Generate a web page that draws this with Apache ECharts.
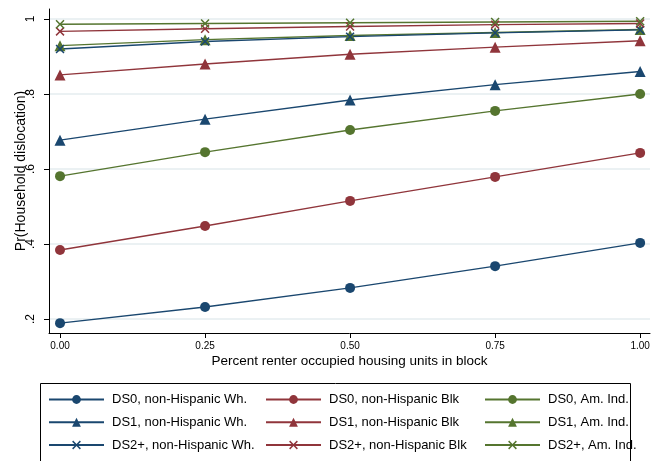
<!DOCTYPE html>
<html>
<head>
<meta charset="utf-8">
<script src="https://cdn.jsdelivr.net/npm/echarts@6/dist/echarts.min.js"></script>
<style>
  html, body { margin: 0; padding: 0; background: #fff; }
  #chart { width: 658px; height: 461px; }
</style>
</head>
<body>
<div id="chart"></div>
<script>
// x positions: share of renter occupied units
const xValues = [0, 0.25, 0.5, 0.75, 1];
const xTicks = [0, 0.25, 0.5, 0.75, 1];
const yTicks = [0.2, 0.4, 0.6, 0.8, 1];

// predicted probabilities
const ds0White = [0.189, 0.232, 0.283, 0.341, 0.403];
const ds0Black = [0.384, 0.448, 0.515, 0.579, 0.643];
const ds0AmInd = [0.581, 0.645, 0.704, 0.755, 0.800];
const ds1White = [0.677, 0.733, 0.784, 0.825, 0.860];
const ds1Black = [0.851, 0.880, 0.906, 0.925, 0.942];
const ds1AmInd = [0.929, 0.945, 0.956, 0.964, 0.972];
const ds2White = [0.920, 0.940, 0.953, 0.963, 0.971];
const ds2Black = [0.967, 0.974, 0.980, 0.985, 0.988];
const ds2AmInd = [0.986, 0.988, 0.990, 0.992, 0.994];

const COLORS = {
  navy: '#1a476f',
  maroon: '#90353b',
  green: '#55752f',
  grid: '#e4ecef'
};

const FONT = 'Liberation Sans, Arial, Helvetica, sans-serif';
const CROSS = 'path://M0,1.2L1.2,0L5,3.8L8.8,0L10,1.2L6.2,5L10,8.8L8.8,10L5,6.2L1.2,10L0,8.8L3.8,5Z';

const mk = (name, arr, color, symbol, size) => ({
  name: name,
  type: 'line',
  data: xValues.map((x, i) => [x, arr[i]]),
  symbol: symbol,
  symbolSize: size,
  lineStyle: { color: color, width: 1.3 },
  itemStyle: { color: color },
  emphasis: { disabled: true },
  animation: false
});

const series = [
  mk('DS0, non-Hispanic Wh.', ds0White, COLORS.navy, 'circle', 10),
  mk('DS0, non-Hispanic Blk', ds0Black, COLORS.maroon, 'circle', 10),
  mk('DS0, Am. Ind.', ds0AmInd, COLORS.green, 'circle', 10),
  mk('DS1, non-Hispanic Wh.', ds1White, COLORS.navy, 'triangle', 11),
  mk('DS1, non-Hispanic Blk', ds1Black, COLORS.maroon, 'triangle', 11),
  mk('DS1, Am. Ind.', ds1AmInd, COLORS.green, 'triangle', 11),
  mk('DS2+, non-Hispanic Wh.', ds2White, COLORS.navy, CROSS, 9),
  mk('DS2+, non-Hispanic Blk', ds2Black, COLORS.maroon, CROSS, 9),
  mk('DS2+, Am. Ind.', ds2AmInd, COLORS.green, CROSS, 9)
];

// one legend per column so that the columns line up
const legendCol = (left, names) => ({
  orient: 'vertical',
  left: left,
  top: 392.5,
  itemWidth: 55,
  itemHeight: 11,
  itemGap: 8.75,
  padding: 0,
  selectedMode: false,
  data: names,
  textStyle: { fontFamily: FONT, fontSize: 13, color: '#000', lineHeight: 14, padding: [0, 0, 0, 3] }
});

const chart = echarts.init(document.getElementById('chart'));
chart.setOption({
  backgroundColor: '#fff',
  animation: false,
  grid: { left: 49, right: 8, top: 9, bottom: 128, containLabel: false },
  xAxis: {
    type: 'value',
    min: -0.019,
    max: 1.017,
    name: 'Percent renter occupied housing units in block',
    nameLocation: 'middle',
    nameGap: 21,
    nameMoveOverlap: false,
    nameTextStyle: { fontFamily: FONT, fontSize: 13.5, color: '#000' },
    axisLine: { onZero: false, lineStyle: { color: '#000', width: 1 } },
    axisTick: { show: true, length: 5, customValues: xTicks, lineStyle: { color: '#000' } },
    axisLabel: {
      customValues: xTicks,
      fontFamily: FONT, fontSize: 10, color: '#000', margin: 8,
      formatter: (v) => v.toFixed(2)
    },
    splitLine: { show: false }
  },
  yAxis: {
    type: 'value',
    min: 0.1627,
    max: 1.0267,
    name: 'Pr(Household dislocation)',
    nameLocation: 'middle',
    nameGap: 21,
    nameMoveOverlap: false,
    nameTextStyle: { fontFamily: FONT, fontSize: 14, color: '#000' },
    axisLine: { show: true, onZero: false, lineStyle: { color: '#000', width: 1 } },
    axisTick: { show: true, length: 5, customValues: yTicks, lineStyle: { color: '#000' } },
    axisLabel: {
      customValues: yTicks,
      rotate: 90,
      fontFamily: FONT, fontSize: 12, color: '#000', margin: 12,
      formatter: (v) => (v === 1 ? '1' : v.toFixed(1).replace('0.', '.'))
    },
    splitLine: { show: true, lineStyle: { color: COLORS.grid, width: 1.5 } }
  },
  legend: [
    legendCol(48, [series[0].name, series[3].name, series[6].name]),
    legendCol(265, [series[1].name, series[4].name, series[7].name]),
    legendCol(484, [series[2].name, series[5].name, series[8].name])
  ],
  graphic: [{
    type: 'rect',
    shape: { x: 40.5, y: 383.5, width: 590, height: 100 },
    style: { fill: 'none', stroke: '#000', lineWidth: 1 },
    silent: true
  }],
  series: series
});
</script>
</body>
</html>
